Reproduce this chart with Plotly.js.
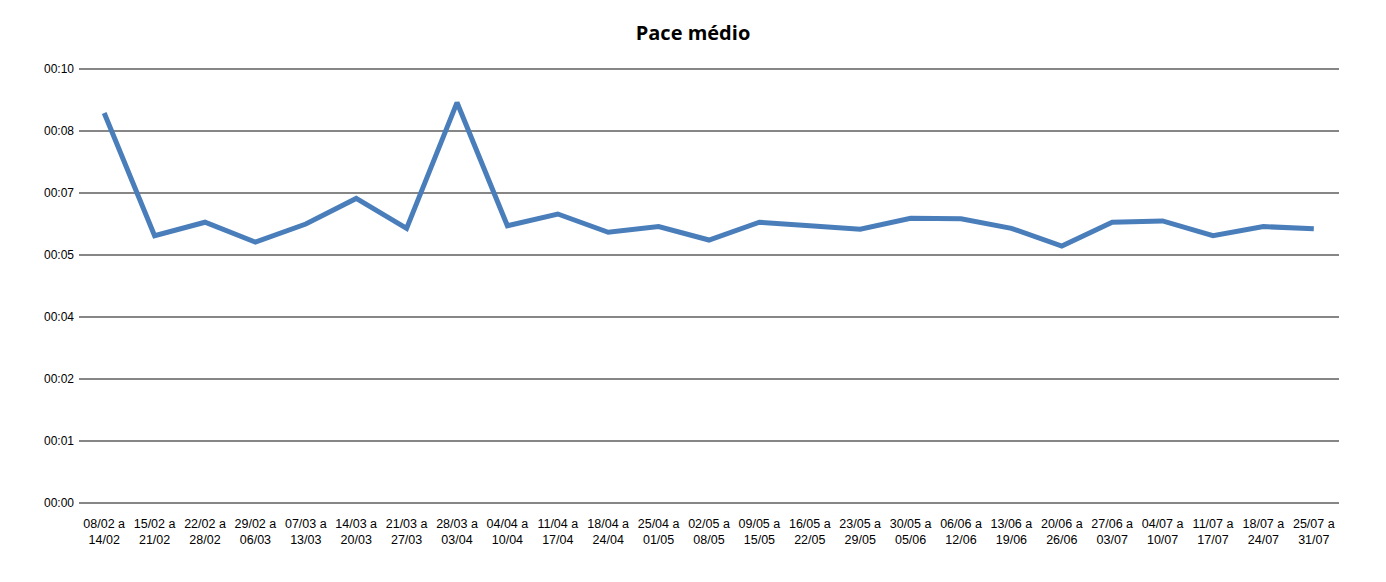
<!DOCTYPE html>
<html>
<head>
<meta charset="utf-8">
<script src="https://cdn.plot.ly/plotly-3.0.1.min.js"></script>
<style>html,body{margin:0;padding:0;background:#fff;}#chart{width:1386px;height:582px;}</style>
</head>
<body>
<div id="chart"></div>
<script>
const weekStart = ["08/02","15/02","22/02","29/02","07/03","14/03","21/03","28/03","04/04","11/04","18/04","25/04","02/05","09/05","16/05","23/05","30/05","06/06","13/06","20/06","27/06","04/07","11/07","18/07","25/07"];
const weekEnd = ["14/02","21/02","28/02","06/03","13/03","20/03","27/03","03/04","10/04","17/04","24/04","01/05","08/05","15/05","22/05","29/05","05/06","12/06","19/06","26/06","03/07","10/07","17/07","24/07","31/07"];
// pace in minutes
const paceMinutes = [8.99, 6.16, 6.47, 6.01, 6.43, 7.02, 6.33, 9.23, 6.39, 6.66, 6.24, 6.37, 6.06, 6.47, 6.39, 6.31, 6.56, 6.55, 6.33, 5.92, 6.47, 6.50, 6.16, 6.37, 6.32];
const yTickValues = [0, 10/7, 20/7, 30/7, 40/7, 50/7, 60/7, 10];
const yTickLabels = ["00:00","00:01","00:02","00:04","00:05","00:07","00:08","00:10"];

const categories = weekStart.map((s, i) => s + " a " + weekEnd[i]);
const tickText = weekStart.map((s, i) => s + " a<br>" + weekEnd[i]);

const trace = {
  x: categories,
  y: paceMinutes,
  type: 'scatter',
  mode: 'lines',
  line: {color: '#4a7ebb', width: 5, shape: 'linear'},
  hoverinfo: 'skip'
};

const layout = {
  width: 1386, height: 582,
  margin: {l: 79, r: 47, t: 67, b: 77},
  paper_bgcolor: '#ffffff', plot_bgcolor: '#ffffff',
  showlegend: false,
  font: {family: 'Liberation Sans, Arial, sans-serif', color: '#000', size: 12},
  title: {text: '<b>Pace médio</b>', x: 0.5, xanchor: 'center', y: 0.943, yanchor: 'middle',
          font: {family: 'Open Sans, sans-serif', size: 20, color: '#000'}},
  xaxis: {
    type: 'category',
    range: [-0.5, categories.length - 0.5],
    tickvals: categories,
    ticktext: tickText,
    showgrid: false, zeroline: false, showline: false,
    ticks: '', tickangle: 0,
    ticklabelstandoff: 9,
    tickfont: {size: 12.5, family: 'Liberation Sans, Arial, sans-serif'},
    fixedrange: true
  },
  yaxis: {
    range: [-0.05, 10.05],
    tickvals: yTickValues,
    ticktext: yTickLabels,
    showgrid: true, gridcolor: '#868686', gridwidth: 1.5,
    zeroline: false,
    showline: false, ticks: '',
    ticklabelstandoff: 4,
    tickfont: {size: 12, family: 'Liberation Sans, Arial, sans-serif'},
    fixedrange: true
  }
};

Plotly.newPlot('chart', [trace], layout, {displayModeBar: false, staticPlot: true});
</script>
</body>
</html>
